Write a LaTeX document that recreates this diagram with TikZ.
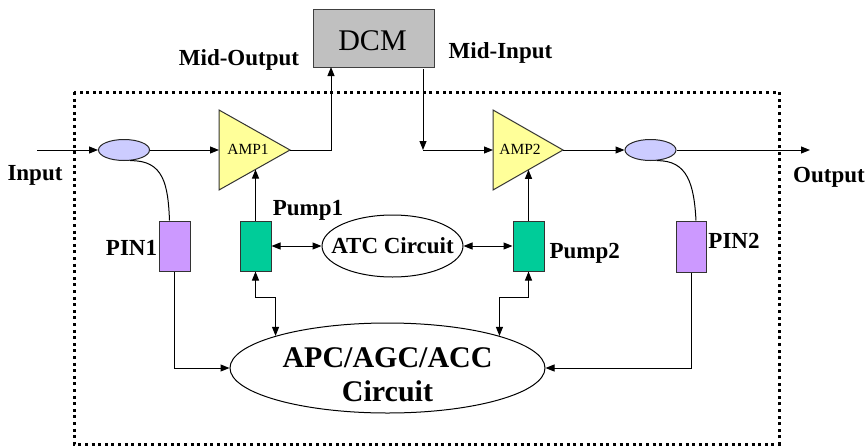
\documentclass[tikz,border=0pt]{standalone}
\usepackage{fontspec}
\setmainfont{Liberation Serif}
\usetikzlibrary{arrows.meta,shapes.geometric,calc}
\definecolor{dcmgray}{HTML}{C0C0C0}
\definecolor{ampyel}{HTML}{FFFF99}
\definecolor{cplblue}{HTML}{CCCCFF}
\definecolor{pinpurple}{HTML}{CC99FF}
\definecolor{pumpgreen}{HTML}{00CC99}
\begin{document}
\begin{tikzpicture}[x=1pt,y=-1pt,line width=1pt,
  tip/.style={-{Triangle[length=9pt,width=7pt]}},
  dtip/.style={{Triangle[length=9pt,width=7pt]}-{Triangle[length=9pt,width=7pt]}},
  lbl/.style={font=\fontsize{23}{27}\selectfont\bfseries,inner sep=0pt,anchor=base},
  biglbl/.style={font=\fontsize{30}{34}\selectfont\bfseries,inner sep=0pt,anchor=base},
  amptxt/.style={font=\fontsize{15.5}{18}\selectfont,inner sep=0pt,anchor=base},
  coupler/.style={ellipse,draw=black!85,fill=cplblue,minimum width=51pt,minimum height=21pt,inner sep=0pt},
  pinbox/.style={rectangle,draw=black!80,fill=pinpurple,minimum width=31pt,minimum height=50pt,inner sep=0pt},
  pumpbox/.style={rectangle,draw=black!80,fill=pumpgreen,minimum width=31pt,minimum height=50pt,inner sep=0pt},
  circ/.style={ellipse,draw=black,inner sep=0pt},
  ampshape/.style={draw=black!80,fill=ampyel},
  border/.style={line width=3pt,dash pattern=on 3pt off 3.6pt}
]
\useasboundingbox (0,0) rectangle (866,447);

% dotted enclosure
\draw[border] (74,92) rectangle (779,444);

% DCM
\node[rectangle,draw=black!75,fill=dcmgray,minimum width=121pt,minimum height=58pt,inner sep=0pt] (dcm) at (373.5,38) {};
\node[font=\fontsize{30}{34}\selectfont,inner sep=0pt,anchor=base] (dcmtxt) at (372.5,50) {DCM};
\node[lbl] (midout) at (239,65) {Mid-Output};
\node[lbl] (midin) at (500.5,58) {Mid-Input};

% amplifiers
\draw[ampshape] (219,110) -- (290,150) coordinate (a1tip) -- (219,190) -- cycle;
\coordinate (a1in) at (219,150);
\coordinate (a1bot) at (255.5,169.5);
\node[amptxt] (amp1) at (248,154) {AMP1};
\draw[ampshape] (493,110) -- (563,150) coordinate (a2tip) -- (493,190) -- cycle;
\coordinate (a2in) at (493,150);
\coordinate (a2bot) at (528.5,169.8);
\node[amptxt] (amp2) at (520,154) {AMP2};

% couplers
\node[coupler] (c1) at (124,150) {};
\node[coupler] (c2) at (650.5,150) {};

% PIN and pump boxes
\node[pinbox] (pin1) at (174.5,246) {};
\node[pinbox,minimum width=30pt,minimum height=51pt] (pin2) at (691,246.5) {};
\node[pumpbox] (pump1) at (255.5,246) {};
\node[pumpbox] (pump2) at (528.5,246) {};

% circuits
\node[circ,minimum width=141pt,minimum height=62pt] (atc) at (392.5,246) {};
\node[lbl] (atctxt) at (392.5,253) {ATC Circuit};
\node[circ,minimum width=315pt,minimum height=90pt] (apc) at (387.5,368) {};
\node[biglbl] (apctxt1) at (387.5,367) {APC/AGC/ACC};
\node[biglbl] (apctxt2) at (387.5,401) {Circuit};

% labels
\node[lbl] (input) at (35,180) {Input};
\node[lbl] (output) at (829,182) {Output};
\node[lbl] (pin1lbl) at (131.5,255) {PIN1};
\node[lbl] (pin2lbl) at (734,248) {PIN2};
\node[lbl] (pump1lbl) at (308,215) {Pump1};
\node[lbl,anchor=base west] (pump2lbl) at (549,258) {Pump2};

% coordinates for free ends
\coordinate (inpt) at (37,150);
\coordinate (outpt) at (810,150);
\coordinate (dcmin) at (331,67);
\coordinate (dcmout) at (423,69);
\coordinate (midcorner) at (423,150);

% signal path
\draw[tip] (inpt) -- (c1.west);
\draw[tip] (c1.east) -- (a1in);
\draw[tip] (a1tip) -| (dcmin);
\draw[tip] (dcmout) -- (midcorner);
\draw[tip] (midcorner) -- (a2in);
\draw[tip] (a2tip) -- (c2.west);
\draw[tip] (c2.east) -- (outpt);

% tap fibres
\draw (c1.-60) .. controls (164,160) and (168,185) .. ($(pin1.north)+(-5,0)$);
\draw (c2.-60) .. controls (688,160) and (694,185) .. ($(pin2.north)+(5,0)$);

% pumps to amplifiers
\draw[tip] (pump1.north) -- (a1bot);
\draw[tip] (pump2.north) -- (a2bot);

% ATC links
\draw[dtip] (pump1.east) -- (atc.west);
\draw[dtip] (atc.east) -- (pump2.west);

% pump to APC
\draw[dtip] (pump1.south) -- ++(0,26) -| (apc.164.1);
\draw[dtip] (pump2.south) -- ++(0,26) -| (apc.16.2);

% PIN to APC
\draw[tip] (pin1.south) |- (apc.west);
\draw[tip] (pin2.south) |- (apc.east);
\end{tikzpicture}
\end{document}
